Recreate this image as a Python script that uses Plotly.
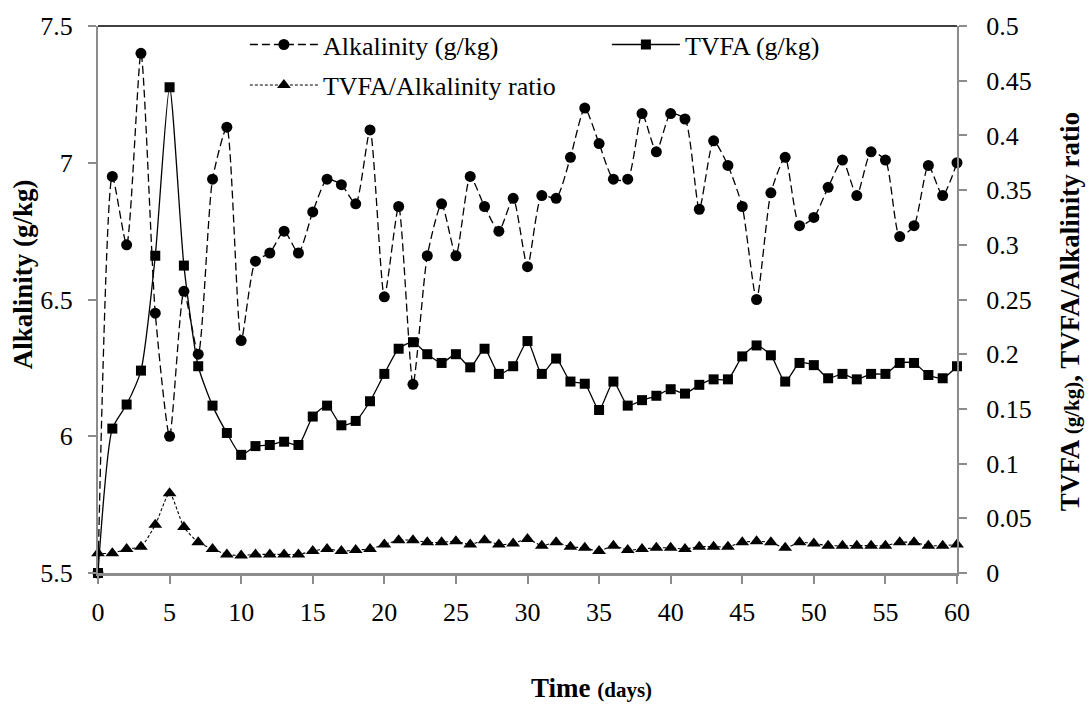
import plotly.graph_objects as go

days = list(range(61))

alkalinity = [5.50, 6.95, 6.70, 7.40, 6.45, 6.00, 6.53, 6.30, 6.94, 7.13,
              6.35, 6.64, 6.67, 6.75, 6.67, 6.82, 6.94, 6.92, 6.85, 7.12,
              6.51, 6.84, 6.19, 6.66, 6.85, 6.66, 6.95, 6.84, 6.75, 6.87,
              6.62, 6.88, 6.87, 7.02, 7.20, 7.07, 6.94, 6.94, 7.18, 7.04,
              7.18, 7.16, 6.83, 7.08, 6.99, 6.84, 6.50, 6.89, 7.02, 6.77,
              6.80, 6.91, 7.01, 6.88, 7.04, 7.01, 6.73, 6.77, 6.99, 6.88,
              7.00]

tvfa = [0.000, 0.132, 0.154, 0.185, 0.290, 0.444, 0.281, 0.189, 0.153, 0.128,
        0.108, 0.116, 0.117, 0.120, 0.117, 0.143, 0.153, 0.135, 0.139, 0.157,
        0.182, 0.205, 0.211, 0.200, 0.192, 0.200, 0.188, 0.205, 0.182, 0.189,
        0.212, 0.182, 0.196, 0.175, 0.173, 0.149, 0.175, 0.153, 0.158, 0.162,
        0.168, 0.164, 0.172, 0.177, 0.177, 0.198, 0.208, 0.199, 0.175, 0.192,
        0.190, 0.178, 0.182, 0.177, 0.182, 0.182, 0.192, 0.192, 0.181, 0.178,
        0.189]

ratio = [0.018, 0.018, 0.022, 0.024, 0.044, 0.073, 0.042, 0.028, 0.022, 0.017,
         0.016, 0.017, 0.017, 0.017, 0.017, 0.020, 0.022, 0.020, 0.021, 0.022,
         0.026, 0.030, 0.030, 0.028, 0.028, 0.029, 0.026, 0.030, 0.026, 0.027,
         0.031, 0.025, 0.028, 0.024, 0.023, 0.020, 0.025, 0.021, 0.022, 0.023,
         0.023, 0.022, 0.024, 0.024, 0.024, 0.028, 0.029, 0.028, 0.023, 0.028,
         0.027, 0.025, 0.025, 0.025, 0.025, 0.025, 0.028, 0.028, 0.025, 0.025,
         0.026]

x_ticks = list(range(0, 61, 5))
left_ticks = [5.5, 6, 6.5, 7, 7.5]
left_labels = ["5.5", "6", "6.5", "7", "7.5"]
right_ticks = [0, 0.05, 0.1, 0.15, 0.2, 0.25, 0.3, 0.35, 0.4, 0.45, 0.5]
right_labels = ["0", "0.05", "0.1", "0.15", "0.2", "0.25", "0.3", "0.35", "0.4", "0.45", "0.5"]

FONT = "'Times New Roman', 'Liberation Serif', serif"
AXIS_GRAY = "#8c8c8c"
TICK_SIZE = 26
LEG_SIZE = 26
TITLE_SIZE = 27

fig = go.Figure()

fig.add_trace(go.Scatter(
    x=days, y=alkalinity, name="Alkalinity (g/kg)", mode="lines+markers",
    line=dict(color="black", width=1.3, dash="8px,4px", shape="spline", smoothing=0.6),
    marker=dict(symbol="circle", size=11, color="black"),
    cliponaxis=False, yaxis="y", legend="legend"))

fig.add_trace(go.Scatter(
    x=days, y=tvfa, name="TVFA (g/kg)", mode="lines+markers",
    line=dict(color="black", width=1.3, shape="spline", smoothing=0.6),
    marker=dict(symbol="square", size=10, color="black"),
    cliponaxis=False, yaxis="y2", legend="legend"))

fig.add_trace(go.Scatter(
    x=days, y=ratio, name="TVFA/Alkalinity ratio", mode="lines+markers",
    line=dict(color="black", width=1.1, dash="3px,2px", shape="spline", smoothing=0.6),
    marker=dict(symbol="triangle-up", size=12, color="black"),
    cliponaxis=False, yaxis="y2", legend="legend2"))

leg_common = dict(orientation="h", xanchor="left", yanchor="middle",
                  bgcolor="rgba(0,0,0,0)", itemwidth=68,
                  font=dict(family=FONT, size=LEG_SIZE, color="black"))

fig.update_layout(
    width=1091, height=706,
    margin=dict(l=98, r=134, t=20, b=133),
    paper_bgcolor="white", plot_bgcolor="white",
    font=dict(family=FONT, size=TICK_SIZE, color="black"),
    showlegend=True,
    legend=dict(x=0.171, y=0.966, entrywidth=279, traceorder="normal", **leg_common),
    legend2=dict(x=0.171, y=0.892, **leg_common),
    xaxis=dict(
        range=[0, 60], tickvals=x_ticks, ticks="outside", ticklen=8,
        tickcolor=AXIS_GRAY, tickwidth=1.5, showgrid=False, zeroline=False,
        showline=True, linecolor=AXIS_GRAY, linewidth=3,
        tickfont=dict(family=FONT, size=TICK_SIZE), ticklabelstandoff=6),
    yaxis=dict(
        range=[5.5, 7.5], tickvals=left_ticks, ticktext=left_labels,
        ticks="outside", ticklen=8, tickcolor=AXIS_GRAY, tickwidth=1.5,
        showgrid=False, zeroline=False, showline=True, linecolor=AXIS_GRAY, linewidth=2,
        tickfont=dict(family=FONT, size=TICK_SIZE), ticklabelstandoff=10),
    yaxis2=dict(
        range=[0, 0.5], tickvals=right_ticks, ticktext=right_labels,
        overlaying="y", side="right", ticks="outside", ticklen=8,
        tickcolor=AXIS_GRAY, tickwidth=1.5, showgrid=False, zeroline=False,
        showline=True, linecolor=AXIS_GRAY, linewidth=2,
        tickfont=dict(family=FONT, size=TICK_SIZE), ticklabelstandoff=14),
)

fig.add_annotation(
    text="<b>Alkalinity (g/kg)</b>", textangle=-90,
    xref="paper", yref="paper", x=-0.0873, y=0.546, xanchor="center", yanchor="middle",
    showarrow=False, font=dict(family=FONT, size=TITLE_SIZE, color="black"))

fig.add_annotation(
    text="<b>TVFA <span style='font-size:21px'>(g/kg)</span>, TVFA/Alkalinity ratio</b>",
    textangle=-90, xref="paper", yref="paper", x=1.1316, y=0.477,
    xanchor="center", yanchor="middle",
    showarrow=False, font=dict(family=FONT, size=TITLE_SIZE, color="black"))

fig.add_annotation(
    text="<b>Time <span style='font-size:21px'>(days)</span></b>",
    xref="paper", yref="paper", x=0.574, y=-0.2098, xanchor="center", yanchor="middle",
    showarrow=False, font=dict(family=FONT, size=TITLE_SIZE, color="black"))

fig.add_shape(type="line", xref="paper", yref="paper", x0=0, x1=1, y0=1, y1=1,
              line=dict(color="black", width=1.5))

fig.write_html("out.html")
